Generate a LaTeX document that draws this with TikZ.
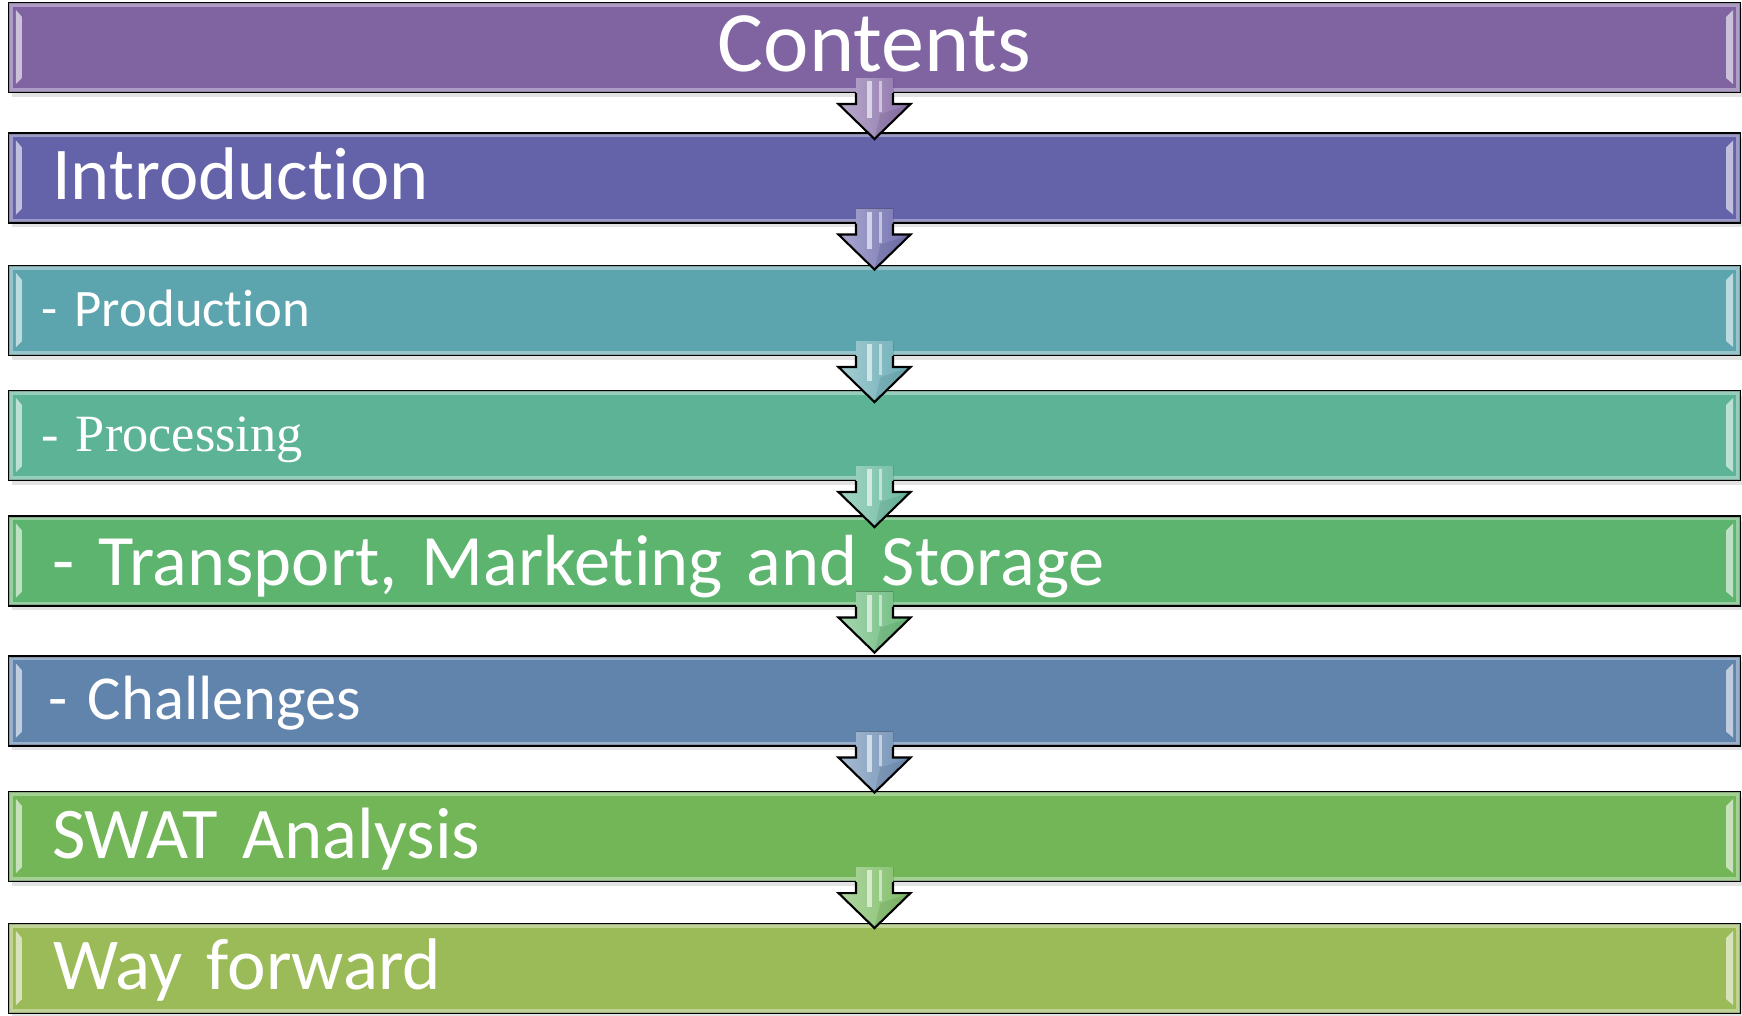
\documentclass[tikz,border=0pt]{standalone}
\usepackage{fontspec}
\setmainfont{Carlito}[Ligatures=NoCommon]
\newfontfamily\timesfont{Liberation Serif}
\usetikzlibrary{calc,shadows}

\definecolor{purplebar}{RGB}{128,100,162}
\definecolor{indigobar}{RGB}{100,98,168}
\definecolor{tealbar}{RGB}{92,164,174}
\definecolor{seabar}{RGB}{92,179,150}
\definecolor{greenbar}{RGB}{93,180,111}
\definecolor{bluebar}{RGB}{97,132,173}
\definecolor{leafbar}{RGB}{114,182,87}
\definecolor{olivebar}{RGB}{155,187,89}

\tikzset{
  bar/.style={fill=#1, draw=black, line width=0.6pt,
    minimum width=173.1mm, minimum height=8.9mm, inner sep=0pt,
    text width=173.1mm, align=left, text=white, text depth=0pt,
    drop shadow={opacity=0.22, shadow xshift=0.3mm, shadow yshift=-0.5mm}},
}

% bevel rim and the two glossy side strips of a bar
\newcommand\barshine[2]{%
  \draw[#2!55!white, line width=0.9pt, opacity=0.8]
    ($(#1.north west)+(3,3)$) rectangle ($(#1.south east)+(-3,-3)$);
  \fill[white, opacity=0.6] ($(#1.north west)+(8,8)$) -- ($(#1.north west)+(14,15)$)
    -- ($(#1.south west)+(14,-15)$) -- ($(#1.south west)+(8,-9)$) -- cycle;
  \fill[white, opacity=0.6] ($(#1.north east)+(-8,8)$) -- ($(#1.north east)+(-15,15)$)
    -- ($(#1.south east)+(-15,-15)$) -- ($(#1.south east)+(-8,-9)$) -- cycle;
}

% block arrow from one bar down to the next
\newcommand\flowarrow[3]{%
  \coordinate (top) at ($(#1.south)!-1.5mm!(#2.north)$);
  \coordinate (sh) at ($(#1.south)!1.1mm!(#2.north)$);
  \coordinate (tip) at ($(#1.south)!4.6mm!(#2.north)$);
  \fill[left color=#3!55!white, right color=#3!90!white]
    ($(top)+(-18.5,0)$) -- ($(sh)+(-18.5,0)$) -- ($(sh)+(-36,0)$) -- (tip)
    -- ($(sh)+(36,0)$) -- ($(sh)+(18.5,0)$) -- ($(top)+(18.5,0)$) -- cycle;
  \fill[#3!70!black, opacity=0.2] ($(sh)+(6,10)$) -- ($(sh)+(36,0)$) -- (tip) -- cycle;
  \draw[white, opacity=0.6, line width=1.3pt] ($(top)+(-5,3)$) -- ($(sh)+(-5,14)$);
  \draw[white, opacity=0.5, line width=1pt] ($(top)+(6,3)$) -- ($(sh)+(6,8)$);
  \draw[line width=0.6pt, line join=miter]
    ($(#1.south)+(-18.5,0)$) -- ($(sh)+(-18.5,0)$) -- ($(sh)+(-36,0)$) -- (tip)
    -- ($(sh)+(36,0)$) -- ($(sh)+(18.5,0)$) -- ($(#1.south)+(18.5,0)$);
}

\begin{document}
\begin{tikzpicture}[x=0.1mm, y=-0.1mm]
  \useasboundingbox (0,0) rectangle (1742,1016);

  \node[bar=purplebar, align=center, text height=4.9mm,
    font=\fontsize{24.5}{30}\selectfont] (contents) at (874.5,47.5) {Contents};
  \node[bar=indigobar, text height=4.4mm,
    font=\fontsize{21.2}{26}\selectfont] (intro) at (874.5,178)
    {\hspace*{4.3mm}Introduction};
  \node[bar=tealbar, text height=3.3mm,
    font=\fontsize{15}{18}\selectfont] (production) at (874.5,310.5)
    {\hspace*{3.2mm}- Production};
  \node[bar=seabar, text height=3.3mm,
    font=\timesfont\fontsize{14.9}{18}\selectfont] (processing) at (874.5,435.5)
    {\hspace*{3.2mm}- Processing};
  \node[bar=greenbar, text height=5.0mm,
    font=\fontsize{20.6}{25}\selectfont] (transport) at (874.5,561)
    {\hspace*{4.3mm}- Transport, Marketing and Storage};
  \node[bar=bluebar, text height=3.8mm,
    font=\fontsize{17.8}{22}\selectfont] (challenges) at (874.5,701)
    {\hspace*{3.9mm}- Challenges};
  \node[bar=leafbar, text height=4.3mm,
    font=\fontsize{20.7}{25}\selectfont] (swat) at (874.5,836.5)
    {\hspace*{4.3mm}SWAT Analysis};
  \node[bar=olivebar, text height=4.1mm,
    font=\fontsize{20.8}{25}\selectfont] (forward) at (874.5,968.5)
    {\hspace*{4.4mm}Way forward};

  \barshine{contents}{purplebar}
  \barshine{intro}{indigobar}
  \barshine{production}{tealbar}
  \barshine{processing}{seabar}
  \barshine{transport}{greenbar}
  \barshine{challenges}{bluebar}
  \barshine{swat}{leafbar}
  \barshine{forward}{olivebar}

  \flowarrow{contents}{intro}{purplebar}
  \flowarrow{intro}{production}{indigobar}
  \flowarrow{production}{processing}{tealbar}
  \flowarrow{processing}{transport}{seabar}
  \flowarrow{transport}{challenges}{greenbar}
  \flowarrow{challenges}{swat}{bluebar}
  \flowarrow{swat}{forward}{leafbar}
\end{tikzpicture}
\end{document}
